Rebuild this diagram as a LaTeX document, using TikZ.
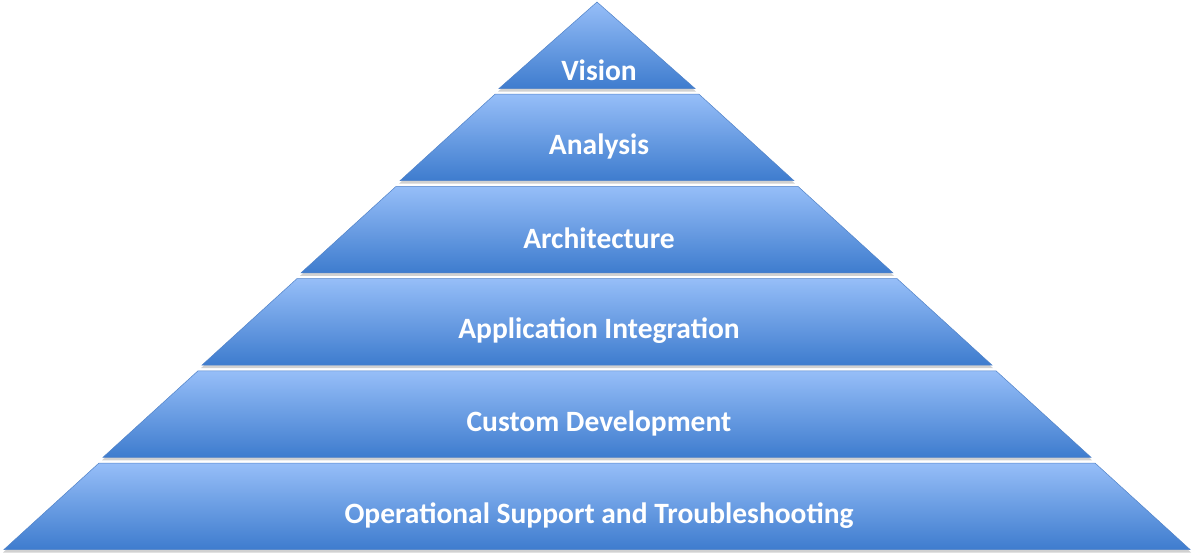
\documentclass[tikz,border=0pt]{standalone}
\usepackage{fontspec}
\setmainfont{Carlito}
\definecolor{bandtop}{RGB}{150,190,248}
\definecolor{bandbot}{RGB}{62,124,206}
\definecolor{bandedge}{RGB}{80,130,200}
\begin{document}
\begin{tikzpicture}[x=1pt,y=-1pt,
  bandshape/.style={top color=bandtop,bottom color=bandbot,draw=bandedge,line width=0.5pt},
  bandshadow/.style={fill=black,opacity=0.18},
  bandlabel/.style={text=white,font=\bfseries\fontsize{29.5}{34}\selectfont,inner sep=0pt}]
\useasboundingbox (0,0) rectangle (1199,557);
\def\cx{597}
\foreach \i/\txt/\nm in {0/Vision/vision,1/Analysis/analysis,2/Architecture/architecture,3/Application Integration/appint,4/Custom Development/custom,5/Operational Support and Troubleshooting/ops}{
  \pgfmathsetmacro{\ty}{2+92.2*\i}
  \pgfmathsetmacro{\by}{\ty+86.5}
  \pgfmathsetmacro{\tw}{\i==0 ? 0 : 99*\i+3}
  \pgfmathsetmacro{\bw}{99*(\i+1)-1}
  \fill[bandshadow] (\cx-\tw,\ty+3) -- (\cx+\tw,\ty+3) -- (\cx+\bw+1,\by+3) -- (\cx-\bw-1,\by+3) -- cycle;
  \path[bandshape] (\cx-\tw,\ty) -- (\cx+\tw,\ty) -- (\cx+\bw,\by) -- (\cx-\bw,\by) -- cycle;
  \pgfmathsetmacro{\ly}{\i==0 ? 70 : (\ty+\by)/2+9}
  \node[bandlabel] (\nm) at (599,\ly) {\txt};
}
\end{tikzpicture}
\end{document}
